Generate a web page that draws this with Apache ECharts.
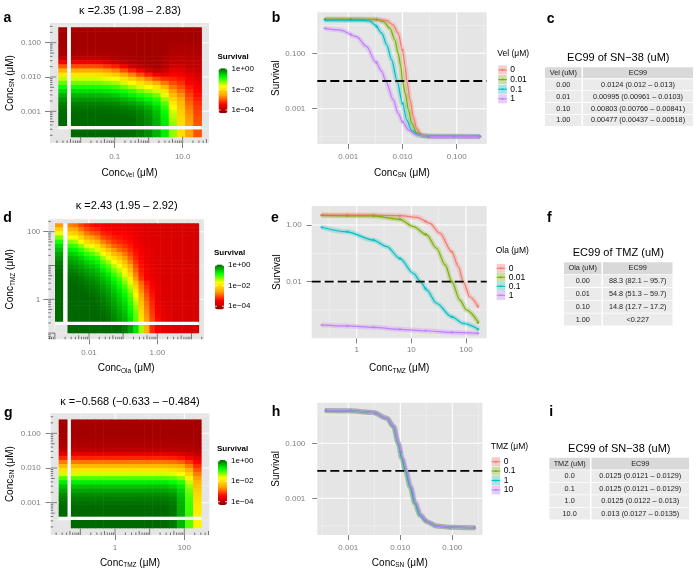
<!DOCTYPE html>
<html><head><meta charset="utf-8">
<script src="https://cdn.jsdelivr.net/npm/echarts@6.0.0/dist/echarts.min.js"></script>
<style>html,body{margin:0;padding:0;background:#fff;}#chart{width:700px;height:587px;}</style>
</head><body><div id="chart"></div>
<script>
// ===================== DATA =====================
// All concentrations / survivals are stored as log10 values.

// ---- Panel a : heat map Vel (x) x SN-38 (y) ----
const aVelLog = [-2.17,-1.93,-1.69,-1.45,-1.21,-0.97,-0.73,-0.49,-0.25,-0.01,0.23,0.47,0.71,0.95,1.19,1.43];
const aSnLog  = [-0.61,-0.73,-0.85,-0.97,-1.09,-1.21,-1.33,-1.45,-1.57,-1.69,-1.81,-1.93,-2.05,-2.17,-2.29,-2.41,-2.53,-2.65,-2.77,-2.89,-3.01,-3.13,-3.25,-3.37]; // top -> bottom
const aSurvival = [ // one column per Vel value, top -> bottom
  [-4.12,-4.12,-4.12,-4.12,-4.12,-4.11,-4.07,-3.94,-3.55,-3.03,-2.48,-1.95,-1.53,-1.18,-0.88,-0.63,-0.4,-0.23,-0.1,-0.03,0.02,0.04,0.05,0.05],
  [-4.12,-4.12,-4.12,-4.12,-4.12,-4.11,-4.07,-3.94,-3.55,-3.03,-2.48,-1.95,-1.53,-1.18,-0.88,-0.63,-0.4,-0.23,-0.1,-0.03,0.02,0.04,0.05,0.05],
  [-4.12,-4.12,-4.12,-4.12,-4.12,-4.11,-4.07,-3.94,-3.55,-3.03,-2.48,-1.95,-1.53,-1.18,-0.88,-0.63,-0.4,-0.23,-0.1,-0.03,0.02,0.04,0.05,0.05],
  [-4.12,-4.12,-4.12,-4.12,-4.12,-4.11,-4.07,-3.95,-3.58,-3.06,-2.52,-1.98,-1.55,-1.2,-0.9,-0.65,-0.41,-0.24,-0.11,-0.03,0.02,0.04,0.05,0.05],
  [-4.12,-4.12,-4.12,-4.12,-4.12,-4.11,-4.08,-3.99,-3.68,-3.17,-2.62,-2.08,-1.62,-1.27,-0.94,-0.69,-0.45,-0.27,-0.13,-0.04,0.01,0.04,0.05,0.05],
  [-4.12,-4.12,-4.12,-4.12,-4.12,-4.12,-4.09,-4.04,-3.8,-3.3,-2.75,-2.2,-1.7,-1.35,-1.0,-0.75,-0.5,-0.3,-0.15,-0.05,0.0,0.03,0.05,0.05],
  [-4.12,-4.12,-4.12,-4.12,-4.12,-4.12,-4.11,-4.07,-3.94,-3.55,-3.03,-2.48,-1.95,-1.53,-1.18,-0.88,-0.63,-0.4,-0.23,-0.1,-0.03,0.02,0.04,0.05],
  [-4.12,-4.12,-4.12,-4.12,-4.12,-4.12,-4.12,-4.09,-4.04,-3.8,-3.3,-2.75,-2.2,-1.7,-1.35,-1.0,-0.75,-0.5,-0.3,-0.15,-0.05,0.0,0.03,0.05],
  [-4.12,-4.12,-4.12,-4.12,-4.12,-4.12,-4.12,-4.11,-4.07,-3.94,-3.55,-3.03,-2.48,-1.95,-1.53,-1.18,-0.88,-0.63,-0.4,-0.24,-0.13,-0.08,-0.06,-0.05],
  [-4.12,-4.12,-4.12,-4.12,-4.12,-4.12,-4.12,-4.12,-4.09,-4.04,-3.8,-3.3,-2.75,-2.2,-1.7,-1.35,-1.0,-0.77,-0.55,-0.38,-0.26,-0.2,-0.17,-0.16],
  [-4.12,-4.12,-4.12,-4.12,-4.12,-4.12,-4.12,-4.12,-4.11,-4.07,-3.94,-3.55,-3.03,-2.48,-1.95,-1.53,-1.2,-0.95,-0.75,-0.58,-0.47,-0.41,-0.38,-0.37],
  [-4.12,-4.12,-4.12,-4.12,-4.12,-4.12,-4.1,-4.07,-4.03,-3.97,-3.85,-3.6,-3.2,-2.8,-2.37,-1.97,-1.62,-1.33,-1.1,-0.95,-0.83,-0.76,-0.72,-0.7],
  [-4.12,-4.12,-4.12,-4.1,-4.07,-4.04,-4.01,-3.96,-3.91,-3.8,-3.63,-3.45,-3.25,-3.05,-2.83,-2.6,-2.35,-2.1,-1.87,-1.65,-1.53,-1.45,-1.37,-1.3],
  [-4.12,-4.12,-4.12,-4.1,-4.07,-4.04,-4.01,-3.96,-3.91,-3.8,-3.65,-3.5,-3.35,-3.2,-3.03,-2.85,-2.68,-2.5,-2.37,-2.25,-2.17,-2.1,-2.05,-2.0],
  [-4.12,-4.12,-4.12,-4.1,-4.07,-4.05,-4.02,-3.98,-3.94,-3.9,-3.78,-3.65,-3.55,-3.45,-3.33,-3.2,-3.1,-3.0,-2.9,-2.8,-2.72,-2.65,-2.6,-2.55],
  [-4.12,-4.12,-4.12,-4.1,-4.07,-4.05,-4.02,-3.98,-3.94,-3.9,-3.82,-3.75,-3.68,-3.6,-3.52,-3.45,-3.38,-3.3,-3.22,-3.15,-3.1,-3.05,-3.02,-3.0]
];
const aSurvivalVel0 = [-4.12,-4.12,-4.12,-4.12,-4.12,-4.1,-4.05,-3.9,-3.5,-2.98,-2.43,-1.9,-1.48,-1.14,-0.85,-0.6,-0.38,-0.21,-0.09,-0.02,0.02,0.04,0.05,0.05];
const aSurvivalSn0  = [0.05,0.05,0.05,0.05,0.05,0.05,0.04,0.03,-0.05,-0.16,-0.37,-0.7,-1.3,-2.0,-2.55,-3.0];

// ---- Panel d : heat map Ola (x) x TMZ (y) ----
const dOlaLog = [-2.55,-2.39,-2.23,-2.07,-1.91,-1.75,-1.59,-1.43,-1.27,-1.11,-0.95,-0.79,-0.63,-0.47,-0.31,-0.15,0.01,0.17,0.33,0.49,0.65,0.81,0.97,1.13];
const dTmzLog = [2.19,2.07,1.95,1.83,1.70,1.58,1.46,1.34,1.22,1.10,0.98,0.86,0.73,0.61,0.49,0.37,0.25,0.13,0.01,-0.12,-0.24,-0.36,-0.48,-0.60]; // top -> bottom
const dSurvival = [
  [-2.75,-2.45,-2.1,-1.65,-1.27,-0.96,-0.71,-0.53,-0.38,-0.26,-0.17,-0.09,-0.03,0.01,0.04,0.05,0.05,0.05,0.05,0.05,0.05,0.05,0.05,0.05],
  [-2.85,-2.55,-2.2,-1.75,-1.36,-1.03,-0.78,-0.57,-0.43,-0.3,-0.21,-0.12,-0.05,0.0,0.03,0.045,0.05,0.05,0.05,0.05,0.05,0.05,0.05,0.05],
  [-3.08,-2.82,-2.5,-2.1,-1.67,-1.3,-1.0,-0.75,-0.56,-0.41,-0.29,-0.2,-0.12,-0.05,-0.01,0.025,0.043,0.048,0.05,0.05,0.05,0.05,0.05,0.05],
  [-3.25,-3.05,-2.8,-2.47,-2.03,-1.58,-1.25,-0.98,-0.74,-0.55,-0.42,-0.3,-0.22,-0.14,-0.07,-0.03,0.01,0.04,0.045,0.05,0.05,0.05,0.05,0.05],
  [-3.38,-3.2,-2.95,-2.6,-2.2,-1.74,-1.4,-1.1,-0.86,-0.65,-0.5,-0.38,-0.28,-0.19,-0.13,-0.07,-0.03,0.01,0.035,0.045,0.05,0.05,0.05,0.05],
  [-3.45,-3.28,-3.05,-2.77,-2.4,-1.96,-1.58,-1.29,-1.0,-0.8,-0.61,-0.48,-0.37,-0.27,-0.2,-0.14,-0.08,-0.04,0.0,0.02,0.04,0.045,0.05,0.05],
  [-3.53,-3.41,-3.26,-3.06,-2.77,-2.4,-2.01,-1.66,-1.35,-1.1,-0.89,-0.7,-0.55,-0.44,-0.34,-0.26,-0.2,-0.14,-0.09,-0.05,-0.015,0.01,0.028,0.038],
  [-3.54,-3.45,-3.34,-3.18,-2.96,-2.68,-2.31,-1.94,-1.62,-1.34,-1.11,-0.91,-0.73,-0.59,-0.48,-0.39,-0.31,-0.25,-0.2,-0.15,-0.1,-0.07,-0.04,-0.015],
  [-3.58,-3.51,-3.42,-3.3,-3.15,-2.92,-2.63,-2.32,-1.98,-1.67,-1.41,-1.19,-1.0,-0.83,-0.68,-0.57,-0.49,-0.41,-0.34,-0.28,-0.23,-0.19,-0.15,-0.12],
  [-3.57,-3.52,-3.46,-3.35,-3.24,-3.05,-2.85,-2.55,-2.24,-1.95,-1.67,-1.45,-1.25,-1.07,-0.91,-0.79,-0.67,-0.58,-0.51,-0.44,-0.38,-0.33,-0.28,-0.25],
  [-3.6,-3.55,-3.49,-3.42,-3.32,-3.18,-3.01,-2.82,-2.59,-2.33,-2.07,-1.82,-1.6,-1.41,-1.22,-1.04,-0.91,-0.8,-0.7,-0.61,-0.54,-0.48,-0.43,-0.38],
  [-3.61,-3.59,-3.53,-3.48,-3.4,-3.32,-3.22,-3.07,-2.93,-2.76,-2.55,-2.33,-2.1,-1.87,-1.6,-1.43,-1.28,-1.15,-1.03,-0.93,-0.85,-0.78,-0.72,-0.66],
  [-3.64,-3.62,-3.6,-3.57,-3.51,-3.47,-3.41,-3.34,-3.27,-3.16,-3.04,-2.93,-2.77,-2.62,-2.3,-2.1,-1.9,-1.72,-1.55,-1.42,-1.3,-1.22,-1.15,-1.1],
  [-3.67,-3.65,-3.63,-3.62,-3.6,-3.57,-3.53,-3.5,-3.46,-3.41,-3.36,-3.31,-3.25,-3.16,-2.9,-2.8,-2.68,-2.55,-2.42,-2.3,-2.2,-2.1,-2.02,-1.95],
  [-3.7,-3.69,-3.67,-3.65,-3.64,-3.63,-3.61,-3.6,-3.59,-3.56,-3.53,-3.51,-3.48,-3.45,-3.3,-3.2,-3.1,-3.0,-2.92,-2.84,-2.77,-2.7,-2.64,-2.58],
  [-3.7,-3.7,-3.7,-3.69,-3.68,-3.67,-3.66,-3.65,-3.64,-3.63,-3.62,-3.61,-3.61,-3.6,-3.5,-3.45,-3.4,-3.35,-3.3,-3.25,-3.2,-3.15,-3.1,-3.05],
  [-3.7,-3.7,-3.7,-3.7,-3.7,-3.7,-3.69,-3.69,-3.68,-3.68,-3.67,-3.66,-3.66,-3.65,-3.64,-3.63,-3.63,-3.62,-3.61,-3.58,-3.55,-3.5,-3.45,-3.4],
  [-3.7,-3.7,-3.7,-3.7,-3.7,-3.7,-3.7,-3.7,-3.7,-3.7,-3.7,-3.7,-3.7,-3.7,-3.69,-3.69,-3.68,-3.68,-3.67,-3.66,-3.64,-3.62,-3.6,-3.57],
  [-3.72,-3.72,-3.72,-3.72,-3.72,-3.72,-3.72,-3.72,-3.72,-3.72,-3.72,-3.72,-3.72,-3.72,-3.72,-3.72,-3.71,-3.71,-3.7,-3.7,-3.69,-3.68,-3.67,-3.66],
  [-3.72,-3.72,-3.72,-3.72,-3.72,-3.72,-3.72,-3.72,-3.72,-3.72,-3.72,-3.72,-3.72,-3.72,-3.72,-3.72,-3.72,-3.72,-3.72,-3.72,-3.72,-3.72,-3.72,-3.72],
  [-3.73,-3.73,-3.73,-3.73,-3.73,-3.73,-3.73,-3.73,-3.73,-3.73,-3.73,-3.73,-3.73,-3.73,-3.73,-3.73,-3.73,-3.73,-3.73,-3.73,-3.73,-3.73,-3.73,-3.73],
  [-3.74,-3.74,-3.74,-3.74,-3.74,-3.74,-3.74,-3.74,-3.74,-3.74,-3.74,-3.74,-3.74,-3.74,-3.74,-3.74,-3.74,-3.74,-3.74,-3.74,-3.74,-3.74,-3.74,-3.74],
  [-3.75,-3.75,-3.75,-3.75,-3.75,-3.75,-3.75,-3.75,-3.75,-3.75,-3.75,-3.75,-3.75,-3.75,-3.75,-3.75,-3.75,-3.75,-3.75,-3.75,-3.75,-3.75,-3.75,-3.75],
  [-3.76,-3.76,-3.76,-3.76,-3.76,-3.76,-3.76,-3.76,-3.76,-3.76,-3.76,-3.76,-3.76,-3.76,-3.76,-3.76,-3.76,-3.76,-3.76,-3.76,-3.76,-3.76,-3.76,-3.76]
];
const dSurvivalOla0 = [-2.6,-2.12,-1.63,-1.23,-0.88,-0.61,-0.44,-0.29,-0.18,-0.08,-0.02,0.02,0.045,0.05,0.05,0.05,0.05,0.05,0.05,0.05,0.05,0.05,0.05,0.05];
const dSurvivalTmz0 = [0.05,0.05,0.05,0.05,0.05,0.05,0.05,0.05,0.05,0.04,-0.07,-0.29,-0.66,-1.37,-2.4,-3.23,-3.53,-3.64,-3.7,-3.72,-3.74,-3.75,-3.76,-3.77];

// ---- Panel g : heat map TMZ (x) x SN-38 (y) ----
const gTmzLog = [-1.16,-0.93,-0.69,-0.46,-0.22,0.02,0.25,0.49,0.72,0.96,1.19,1.43,1.67,1.90,2.14,2.37];
const gSnLog  = [-0.66,-0.78,-0.89,-1.01,-1.13,-1.24,-1.36,-1.48,-1.59,-1.71,-1.83,-1.94,-2.06,-2.18,-2.29,-2.41,-2.53,-2.64,-2.76,-2.88,-2.99,-3.11,-3.23,-3.34]; // top -> bottom
const gSurvival = [
  [-4.12,-4.12,-4.12,-4.12,-4.11,-4.08,-4.04,-3.94,-3.65,-3.25,-2.8,-2.35,-1.95,-1.52,-1.08,-0.72,-0.47,-0.3,-0.17,-0.08,-0.01,0.03,0.05,0.05],
  [-4.12,-4.12,-4.12,-4.12,-4.11,-4.08,-4.04,-3.94,-3.65,-3.25,-2.8,-2.35,-1.95,-1.52,-1.08,-0.72,-0.47,-0.3,-0.17,-0.08,-0.01,0.03,0.05,0.05],
  [-4.12,-4.12,-4.12,-4.12,-4.11,-4.08,-4.04,-3.94,-3.65,-3.25,-2.8,-2.35,-1.95,-1.52,-1.08,-0.72,-0.47,-0.3,-0.17,-0.08,-0.01,0.03,0.05,0.05],
  [-4.12,-4.12,-4.12,-4.12,-4.11,-4.08,-4.04,-3.94,-3.65,-3.25,-2.8,-2.35,-1.95,-1.52,-1.08,-0.72,-0.47,-0.3,-0.17,-0.08,-0.01,0.03,0.05,0.05],
  [-4.12,-4.12,-4.12,-4.12,-4.11,-4.08,-4.04,-3.94,-3.65,-3.25,-2.8,-2.35,-1.95,-1.52,-1.08,-0.72,-0.47,-0.3,-0.17,-0.08,-0.01,0.03,0.05,0.05],
  [-4.12,-4.12,-4.12,-4.12,-4.11,-4.08,-4.04,-3.94,-3.65,-3.25,-2.8,-2.35,-1.95,-1.52,-1.08,-0.72,-0.47,-0.3,-0.17,-0.08,-0.01,0.03,0.05,0.05],
  [-4.12,-4.12,-4.12,-4.12,-4.11,-4.08,-4.04,-3.94,-3.65,-3.25,-2.8,-2.35,-1.95,-1.52,-1.08,-0.72,-0.47,-0.3,-0.17,-0.08,-0.01,0.03,0.05,0.05],
  [-4.12,-4.12,-4.12,-4.12,-4.11,-4.08,-4.04,-3.94,-3.65,-3.25,-2.8,-2.35,-1.95,-1.52,-1.08,-0.72,-0.47,-0.3,-0.17,-0.08,-0.01,0.03,0.05,0.05],
  [-4.12,-4.12,-4.12,-4.12,-4.11,-4.08,-4.04,-3.94,-3.65,-3.25,-2.8,-2.35,-1.95,-1.52,-1.08,-0.72,-0.47,-0.3,-0.17,-0.08,-0.01,0.03,0.05,0.05],
  [-4.12,-4.12,-4.12,-4.12,-4.11,-4.08,-4.04,-3.94,-3.65,-3.25,-2.8,-2.35,-1.95,-1.52,-1.08,-0.72,-0.47,-0.3,-0.17,-0.08,-0.01,0.03,0.05,0.05],
  [-4.12,-4.12,-4.12,-4.12,-4.11,-4.08,-4.04,-3.94,-3.65,-3.25,-2.8,-2.35,-1.95,-1.52,-1.08,-0.72,-0.47,-0.3,-0.17,-0.08,-0.01,0.03,0.05,0.05],
  [-4.12,-4.12,-4.12,-4.12,-4.11,-4.08,-4.04,-3.94,-3.65,-3.25,-2.8,-2.35,-1.95,-1.52,-1.08,-0.72,-0.47,-0.3,-0.17,-0.08,-0.01,0.03,0.05,0.05],
  [-4.12,-4.12,-4.12,-4.12,-4.11,-4.08,-4.04,-3.95,-3.67,-3.28,-2.84,-2.4,-2.0,-1.58,-1.15,-0.8,-0.55,-0.37,-0.23,-0.13,-0.07,-0.04,-0.03,-0.03],
  [-4.12,-4.12,-4.12,-4.12,-4.11,-4.09,-4.05,-3.96,-3.72,-3.35,-2.92,-2.5,-2.1,-1.7,-1.28,-0.95,-0.73,-0.58,-0.48,-0.42,-0.38,-0.36,-0.35,-0.35],
  [-4.12,-4.12,-4.12,-4.12,-4.11,-4.09,-4.06,-4.0,-3.82,-3.5,-3.15,-2.8,-2.45,-2.1,-1.78,-1.5,-1.32,-1.2,-1.12,-1.07,-1.04,-1.02,-1.01,-1.0],
  [-4.12,-4.12,-4.12,-4.12,-4.12,-4.11,-4.08,-4.02,-3.92,-3.7,-3.45,-3.2,-2.98,-2.78,-2.58,-2.4,-2.28,-2.18,-2.08,-2.0,-1.95,-1.9,-1.87,-1.85]
];
const gSurvivalTmz0 = [-4.12,-4.12,-4.12,-4.12,-4.11,-4.08,-4.04,-3.94,-3.65,-3.25,-2.8,-2.35,-1.95,-1.52,-1.08,-0.72,-0.47,-0.3,-0.17,-0.08,-0.01,0.03,0.05,0.05];
const gSurvivalSn0  = [0.05,0.05,0.05,0.05,0.05,0.05,0.05,0.05,0.05,0.05,0.05,0.05,-0.05,-0.4,-1.1,-1.8];

// ---- Panel b : survival vs SN-38 for Vel levels ----
const bLevels = ['0','0.01','0.1','1'];
const bCurveX = [
  [-3.43,-2.8,-2.4,-2.29,-2.17,-2.08,-2.0,-1.95,-1.92,-1.86,-1.8,-1.74,-1.65,-1.49,-0.57],
  [-3.43,-2.48,-2.35,-2.23,-2.14,-2.08,-2.03,-2.0,-1.95,-1.89,-1.83,-1.74,-1.62,-0.57],
  [-3.43,-2.72,-2.6,-2.5,-2.38,-2.29,-2.2,-2.1,-2.0,-1.92,-1.83,-1.71,-1.49,-0.57],
  [-3.43,-3.15,-2.85,-2.66,-2.5,-2.38,-2.31,-2.17,-2.08,-2.0,-1.89,-1.74,-1.49,-0.57]
];
const bCurveY = [
  [0.23,0.23,0.21,0.18,0.02,-0.28,-0.88,-1.48,-2.0,-2.68,-3.29,-3.71,-3.95,-4.01,-4.01],
  [0.23,0.23,0.14,-0.1,-0.52,-1.0,-1.48,-2.0,-2.44,-3.05,-3.53,-3.86,-3.98,-4.0],
  [0.2,0.19,0.16,0.02,-0.28,-0.7,-1.24,-2.0,-2.81,-3.41,-3.79,-3.95,-4.0,-4.0],
  [-0.1,-0.16,-0.4,-0.76,-1.3,-1.66,-2.0,-2.68,-3.17,-3.47,-3.77,-3.95,-4.0,-4.0]
];
const bPointX = [-3.43,-2.95,-2.48,-2.0,-1.52,-1.05,-0.57];
const bPointY = [
  [0.23,0.23,0.22,-0.88,-4.01,-4.01,-4.01],
  [0.23,0.23,0.21,-2.0,-4.0,-4.0,-4.0],
  [0.2,0.2,-0.03,-2.81,-4.0,-4.0,-4.0],
  [-0.1,-0.32,-1.33,-3.47,-4.0,-4.0,-4.0]
];

// ---- Panel e : survival vs TMZ for Ola levels ----
const eLevels = ['0','0.01','0.1','1'];
const eCurveX = [
  [-0.64,0.31,0.79,1.10,1.34,1.52,1.74,1.86,1.95,2.07,2.22],
  [-0.64,0.30,0.79,1.04,1.28,1.46,1.62,1.74,1.89,2.01,2.23],
  [-0.64,-0.18,0.30,0.55,0.79,1.04,1.17,1.28,1.46,1.74,1.95,2.23],
  [-0.64,-0.17,0.31,0.79,1.26,1.74,2.22]
];
const eCurveY = [
  [0.35,0.35,0.33,0.27,0.06,-0.29,-0.94,-1.47,-2.0,-2.53,-2.88],
  [0.34,0.32,0.2,-0.06,-0.35,-0.82,-1.41,-2.0,-2.65,-3.0,-3.45],
  [-0.08,-0.24,-0.53,-0.76,-1.18,-1.71,-2.0,-2.29,-2.76,-3.24,-3.47,-3.68],
  [-3.53,-3.56,-3.61,-3.68,-3.73,-3.79,-3.82]
];
const ePointX = [-0.64,-0.17,0.31,0.79,1.26,1.74,2.22];
const ePointY = [
  [0.35,0.35,0.35,0.33,0.13,-0.94,-2.88],
  [0.34,0.33,0.32,0.2,-0.33,-2.0,-3.45],
  [-0.08,-0.24,-0.53,-1.18,-2.24,-3.24,-3.68],
  [-3.53,-3.56,-3.61,-3.68,-3.73,-3.79,-3.82]
];

// ---- Panel h : survival vs SN-38 for TMZ levels ----
const hLevels = ['0','0.1','1','10'];
const hCurveX = [
  [-3.45,-2.97,-2.52,-2.26,-2.13,-2.04,-1.97,-1.90,-1.81,-1.72,-1.62,-1.49,-1.30,-1.04,-0.56],
  [-3.45,-2.97,-2.52,-2.26,-2.13,-2.04,-1.97,-1.90,-1.81,-1.72,-1.62,-1.49,-1.30,-1.04,-0.56],
  [-3.45,-2.97,-2.52,-2.26,-2.13,-2.04,-1.97,-1.90,-1.81,-1.72,-1.62,-1.49,-1.30,-1.04,-0.56],
  [-3.45,-2.97,-2.52,-2.25,-2.12,-2.03,-1.95,-1.88,-1.79,-1.70,-1.60,-1.48,-1.30,-1.04,-0.56]
];
const hCurveY = [
  [0.19,0.18,0.12,-0.09,-0.39,-1.0,-1.55,-2.0,-2.58,-3.18,-3.61,-3.85,-4.01,-4.05,-4.07],
  [0.19,0.18,0.12,-0.09,-0.39,-1.0,-1.55,-2.0,-2.58,-3.18,-3.61,-3.85,-4.01,-4.05,-4.07],
  [0.19,0.18,0.12,-0.09,-0.39,-1.0,-1.55,-2.0,-2.58,-3.18,-3.61,-3.85,-4.01,-4.05,-4.07],
  [0.19,0.18,0.12,-0.09,-0.39,-1.0,-1.55,-2.0,-2.58,-3.18,-3.61,-3.85,-4.01,-4.05,-4.07]
];
const hPointX = [-3.43,-2.95,-2.48,-2.0,-1.52,-1.05,-0.57];
const hPointY = [
  [0.19,0.18,0.1,-1.3,-3.8,-4.05,-4.07],
  [0.19,0.18,0.1,-1.3,-3.8,-4.05,-4.07],
  [0.19,0.18,0.1,-1.3,-3.8,-4.05,-4.07],
  [0.19,0.18,0.1,-1.25,-3.78,-4.05,-4.07]
];
const EC99_LEVEL = 0.01;

// ---- Tables ----
const cTitle = 'EC99 of SN\u221238 (uM)';
const cHeader = ['Vel (uM)','EC99'];
const cRows = [['0.00','0.0124 (0.012 \u2013 0.013)'],['0.01','0.00995 (0.00961 \u2013 0.0103)'],['0.10','0.00803 (0.00766 \u2013 0.00841)'],['1.00','0.00477 (0.00437 \u2013 0.00518)']];
const fTitle = 'EC99 of TMZ (uM)';
const fHeader = ['Ola (uM)','EC99'];
const fRows = [['0.00','88.3 (82.1 \u2013 95.7)'],['0.01','54.8 (51.3 \u2013 59.7)'],['0.10','14.8 (12.7 \u2013 17.2)'],['1.00','<0.227']];
const iTitle = 'EC99 of SN\u221238 (uM)';
const iHeader = ['TMZ (uM)','EC99'];
const iRows = [['0.0','0.0125 (0.0121 \u2013 0.0129)'],['0.1','0.0125 (0.0121 \u2013 0.0129)'],['1.0','0.0125 (0.0122 \u2013 0.013)'],['10.0','0.013 (0.0127 \u2013 0.0135)']];

const kappaA = '\u03BA =2.35 (1.98 \u2013 2.83)';
const kappaD = '\u03BA =2.43 (1.95 \u2013 2.92)';
const kappaG = '\u03BA =\u22120.568 (\u22120.633 \u2013 \u22120.484)';
const survivalTicks = [0, -2, -4];
const survivalTickLabels = ['1e+00','1e\u221202','1e\u221204'];

// ===================== STYLE / LAYOUT =====================
const FONT = "'Liberation Sans', Arial, Helvetica, sans-serif";
const HUE = ['#F8766D','#7CAE00','#00BFC4','#C77CFF'];
const VM_MIN = -4.32, VM_MAX = 0.07;
const VM_COLORS = ['#8B0000','#FF0000','#FFA500','#FFFF00','#00FF00','#006400'];
const PANEL_BG = '#E5E5E5';
const pow10 = v => Math.pow(10, v);
const lin = (p0, v0, p1, v1) => { const k = (v1 - v0) / (p1 - p0); return p => v0 + (p - p0) * k; };

const grids = [], xAxes = [], yAxes = [], series = [], visualMaps = [], graphics = [];
const RICH = {
  m: { fontSize: 10, fontFamily: FONT, color: '#000', lineHeight: 12 },
  s: { fontSize: 6.5, fontFamily: FONT, color: '#000', lineHeight: 7, verticalAlign: 'bottom' }
};
function concName(sub) { return '{m|Conc}{s|' + sub + '}{m| (\u03BCM)}'; }

function labelFormatter(vals, labs) {
  return v => { let b = 0, d = Infinity; vals.forEach((t, i) => { const e = Math.abs(Math.log10(t) - Math.log10(v)); if (e < d) { d = e; b = i; } }); return labs[b]; };
}
function addGrid(r, bg) {
  grids.push({ left: r[0], top: r[1], width: r[2] - r[0], height: r[3] - r[1], show: !!bg, backgroundColor: bg || 'transparent', borderWidth: 0, borderColor: 'transparent', containLabel: false });
  return grids.length - 1;
}
function valueAxis(gi, range, ticks, labs, margin, name, gap) {
  return { type: 'log', logBase: 10, gridIndex: gi, min: pow10(range[0]), max: pow10(range[1]),
    splitLine: { show: false }, axisLine: { show: false }, minorTick: { show: false },
    axisTick: { show: true, customValues: ticks, length: 5, lineStyle: { color: '#7F7F7F', width: 1 } },
    axisLabel: { show: true, customValues: ticks, margin: margin, color: '#7F7F7F', fontSize: 8, fontFamily: FONT, formatter: labelFormatter(ticks, labs) },
    name: name, nameLocation: 'middle', nameGap: gap,
    nameTextStyle: { rich: RICH, fontSize: 10, fontFamily: FONT, color: '#000' } };
}
function hiddenLog(gi, range) { return { type: 'log', logBase: 10, gridIndex: gi, min: pow10(range[0]), max: pow10(range[1]), show: false }; }
function hiddenCat(gi) { return { type: 'category', data: ['0'], gridIndex: gi, show: false }; }
function edges(c) {
  const n = c.length, e = [c[0] - (c[1] - c[0]) / 2];
  for (let i = 1; i < n; i++) e.push((c[i - 1] + c[i]) / 2);
  e.push(c[n - 1] + (c[n - 1] - c[n - 2]) / 2);
  return e;
}
function inRange(v, r) { const l = Math.log10(v); return l >= r[0] - 1e-9 && l <= r[1] + 1e-9; }

function gridLines(gi, xr, yr, xMaj, xMin, yMaj, yMin) {
  const data = [], xRef = pow10(xr[0]) * 1.0001, yRef = pow10(yr[0]) * 1.0001;
  xMin.filter(v => inRange(v, xr)).forEach(v => data.push([v, yRef, 0, 0]));
  yMin.filter(v => inRange(v, yr)).forEach(v => data.push([xRef, v, 1, 0]));
  xMaj.filter(v => inRange(v, xr)).forEach(v => data.push([v, yRef, 0, 1]));
  yMaj.filter(v => inRange(v, yr)).forEach(v => data.push([xRef, v, 1, 1]));
  series.push({ type: 'custom', xAxisIndex: gi, yAxisIndex: gi, data: data, encode: { x: 0, y: 1 }, z: 1, silent: true,
    renderItem: (params, api) => {
      const cs = params.coordSys, p = api.coord([api.value(0), api.value(1)]);
      const hz = api.value(2) === 1, maj = api.value(3) === 1;
      const shape = hz ? { x1: cs.x, y1: p[1], x2: cs.x + cs.width, y2: p[1] } : { x1: p[0], y1: cs.y, x2: p[0], y2: cs.y + cs.height };
      return { type: 'line', shape: shape, style: { stroke: maj ? '#FFFFFF' : '#F4F4F4', lineWidth: maj ? 1.1 : 0.5 } };
    } });
}
function logTicks(gi, xr, yr) {
  const data = [];
  for (let k = Math.floor(xr[0]); k <= Math.ceil(xr[1]); k++) for (let m = 1; m <= 9; m++) {
    const v = m * pow10(k); if (inRange(v, xr)) data.push([v, pow10(yr[0]) * 1.0001, 0, m === 1 ? 6.5 : (m === 5 ? 4 : 2.5)]);
  }
  for (let k = Math.floor(yr[0]); k <= Math.ceil(yr[1]); k++) for (let m = 1; m <= 9; m++) {
    const v = m * pow10(k); if (inRange(v, yr)) data.push([pow10(xr[0]) * 1.0001, v, 1, m === 1 ? 6.5 : (m === 5 ? 4 : 2.5)]);
  }
  series.push({ type: 'custom', xAxisIndex: gi, yAxisIndex: gi, data: data, encode: { x: 0, y: 1 }, z: 4, silent: true,
    renderItem: (params, api) => {
      const cs = params.coordSys, p = api.coord([api.value(0), api.value(1)]), len = api.value(3);
      const shape = api.value(2) === 0
        ? { x1: p[0], y1: cs.y + cs.height, x2: p[0], y2: cs.y + cs.height - len }
        : { x1: cs.x, y1: p[1], x2: cs.x + len, y2: p[1] };
      return { type: 'line', shape: shape, style: { stroke: '#555555', lineWidth: 0.8 } };
    } });
}
function cellItem(params, api) {
  const a = api.coord([api.value(0), api.value(2)]), b = api.coord([api.value(1), api.value(3)]);
  return { type: 'rect', shape: { x: Math.min(a[0], b[0]), y: Math.min(a[1], b[1]), width: Math.abs(b[0] - a[0]) + 0.5, height: Math.abs(b[1] - a[1]) + 0.5 }, style: { fill: api.visual('color') } };
}
function vStripItem(params, api) {
  const cs = params.coordSys, a = api.coord([0, api.value(2)]), b = api.coord([0, api.value(3)]);
  return { type: 'rect', shape: { x: cs.x, y: Math.min(a[1], b[1]), width: cs.width, height: Math.abs(a[1] - b[1]) + 0.5 }, style: { fill: api.visual('color') } };
}
function hStripItem(params, api) {
  const cs = params.coordSys, a = api.coord([api.value(0), 0]), b = api.coord([api.value(1), 0]);
  return { type: 'rect', shape: { x: Math.min(a[0], b[0]), y: cs.y, width: Math.abs(a[0] - b[0]) + 0.5, height: cs.height }, style: { fill: api.visual('color') } };
}
function txt(t, x, y, size, align, extra) {
  return { type: 'text', silent: true, z: 100, style: Object.assign({ text: t, x: x, y: y, fill: '#000', font: size + 'px ' + FONT, textAlign: align || 'left', align: align || 'left', textVerticalAlign: 'middle', verticalAlign: 'middle' }, extra || {}) };
}
function rect(x, y, w, h, fill, extra) { return { type: 'rect', silent: true, z: 99, shape: { x: x, y: y, width: w, height: h }, style: Object.assign({ fill: fill }, extra || {}) }; }

function heatPanel(c) {
  const r = c.rect, xr = [c.fx(r[0]), c.fx(r[2])], yr = [c.fy(r[3]), c.fy(r[1])];
  const gi = addGrid(r, PANEL_BG);
  xAxes.push(valueAxis(gi, xr, c.xTicks, c.xLabs, c.xMargin, concName(c.xSub), c.xGap));
  yAxes.push(valueAxis(gi, yr, c.yTicks, c.yLabs, c.yMargin, concName(c.ySub), c.yGap));
  gridLines(gi, xr, yr, c.xTicks, c.xMinor, c.yTicks, c.yMinor);
  const xe = edges(c.xc), ye = edges(c.yc), data = [], sIdx = [];
  c.cols.forEach((col, i) => col.forEach((v, j) => data.push([pow10(xe[i]), pow10(xe[i + 1]), pow10(ye[j]), pow10(ye[j + 1]), v])));
  series.push({ type: 'custom', xAxisIndex: gi, yAxisIndex: gi, data: data, encode: { x: [0, 1], y: [2, 3] }, renderItem: cellItem, z: 2, silent: true });
  sIdx.push(series.length - 1);
  logTicks(gi, xr, yr);
  const lr = c.leftRect, gl = addGrid(lr);
  xAxes.push(hiddenCat(gl)); yAxes.push(hiddenLog(gl, [c.fy(lr[3]), c.fy(lr[1])]));
  series.push({ type: 'custom', xAxisIndex: gl, yAxisIndex: gl, data: c.leftStrip.map((v, j) => [0, 0, pow10(ye[j]), pow10(ye[j + 1]), v]), encode: { x: 0, y: [2, 3] }, renderItem: vStripItem, z: 2, silent: true });
  sIdx.push(series.length - 1);
  const br = c.bottomRect, gb = addGrid(br);
  xAxes.push(hiddenLog(gb, [c.fx(br[0]), c.fx(br[2])])); yAxes.push(hiddenCat(gb));
  series.push({ type: 'custom', xAxisIndex: gb, yAxisIndex: gb, data: c.bottomStrip.map((v, i) => [pow10(xe[i]), pow10(xe[i + 1]), 0, 0, v]), encode: { x: [0, 1], y: 2 }, renderItem: hStripItem, z: 2, silent: true });
  sIdx.push(series.length - 1);
  graphics.push(rect(lr[2], lr[1], br[0] - lr[2], lr[3] - lr[1], '#FAFAFA', {}));
  graphics.push(rect(lr[0], lr[3], br[2] - lr[0], br[1] - lr[3], '#FAFAFA', {}));
  const cb = c.cb;
  visualMaps.push({ type: 'continuous', min: VM_MIN, max: VM_MAX, dimension: 4, seriesIndex: sIdx, inRange: { color: VM_COLORS },
    calculable: false, hoverLink: false, itemWidth: 9, itemHeight: cb.h, left: cb.x, top: cb.y, padding: 0, text: null, show: true });
  graphics.push(txt('Survival', cb.x - 1, cb.y - 11.5, 8, 'left', { font: 'bold 8px ' + FONT }));
  survivalTicks.forEach((v, i) => {
    const y = cb.y + (VM_MAX - v) / (VM_MAX - VM_MIN) * cb.h;
    graphics.push({ type: 'line', silent: true, z: 101, shape: { x1: cb.x, y1: y, x2: cb.x + 2, y2: y }, style: { stroke: '#fff', lineWidth: 0.8 } });
    graphics.push({ type: 'line', silent: true, z: 101, shape: { x1: cb.x + 7, y1: y, x2: cb.x + 9, y2: y }, style: { stroke: '#fff', lineWidth: 0.8 } });
    graphics.push(txt(survivalTickLabels[i], cb.x + 13, y, 8, 'left'));
  });
}

function linePanel(c) {
  const r = c.rect, xr = [c.fx(r[0]), c.fx(r[2])], yr = [c.fy(r[3]), c.fy(r[1])];
  const gi = addGrid(r, PANEL_BG);
  xAxes.push(valueAxis(gi, xr, c.xTicks, c.xLabs, c.xMargin, concName(c.xSub), c.xGap));
  yAxes.push(valueAxis(gi, yr, c.yTicks, c.yLabs, c.yMargin, 'Survival', c.yGap));
  gridLines(gi, xr, yr, c.xTicks, c.xMinor, c.yMajor, c.yMinor);
  c.cx.forEach((xs, i) => {
    const d = xs.map((x, k) => [pow10(x), pow10(c.cy[i][k])]);
    series.push({ type: 'line', xAxisIndex: gi, yAxisIndex: gi, data: d, smooth: 0.3, smoothMonotone: 'x', symbol: 'none', lineStyle: { color: HUE[i], width: 5, opacity: 0.25 }, z: 3, silent: true });
    series.push({ type: 'line', xAxisIndex: gi, yAxisIndex: gi, data: d, smooth: 0.3, smoothMonotone: 'x', symbol: 'none', lineStyle: { color: HUE[i], width: 1.2 }, z: 4, silent: true });
    series.push({ type: 'scatter', xAxisIndex: gi, yAxisIndex: gi, data: c.px.map((x, k) => [pow10(x), pow10(c.py[i][k])]), symbolSize: 2.5, itemStyle: { color: HUE[i] }, z: 5, silent: true });
  });
  series.push({ type: 'custom', xAxisIndex: gi, yAxisIndex: gi, data: [[pow10(xr[0]) * 1.0001, EC99_LEVEL]], encode: { x: 0, y: 1 }, z: 6, silent: true,
    renderItem: (params, api) => { const cs = params.coordSys, p = api.coord([api.value(0), api.value(1)]);
      return { type: 'line', shape: { x1: cs.x, y1: p[1], x2: cs.x + cs.width, y2: p[1] }, style: { stroke: '#000', lineWidth: 1.8, lineDash: [9, 4] } }; } });
  const L = c.legend;
  graphics.push(txt(c.legendTitle, L.x, L.ty, 8.5, 'left'));
  c.levels.forEach((lab, i) => {
    const cy = L.y0 + i * L.step;
    graphics.push(rect(L.x + 1, cy - 4.5, 8.5, 9, '#F2F2F2'));
    graphics.push(rect(L.x + 1, cy - 4.5, 8.5, 9, HUE[i], { opacity: 0.3 }));
    graphics.push({ type: 'line', silent: true, z: 100, shape: { x1: L.x + 1, y1: cy, x2: L.x + 9.5, y2: cy }, style: { stroke: HUE[i], lineWidth: 1.1 } });
    graphics.push({ type: 'circle', silent: true, z: 100, shape: { cx: L.x + 5.25, cy: cy, r: 1 }, style: { fill: HUE[i] } });
    graphics.push(txt(lab, L.x + 13, cy, 8.5, 'left'));
  });
}

function table(c) {
  graphics.push(txt(c.title, c.cx, c.ty, 11, 'center'));
  const rows = [c.header].concat(c.rows);
  rows.forEach((row, i) => {
    const y = c.y0 + i * c.step;
    let x = c.x0;
    row.forEach((t, j) => {
      graphics.push(rect(x, y, c.w[j], c.rh, i === 0 ? '#D9D9D9' : '#EBEBEB'));
      graphics.push(txt(t, x + c.w[j] / 2, y + c.rh / 2, 7.3, 'center', { fill: '#222' }));
      x += c.w[j] + 1.5;
    });
  });
}

heatPanel({ rect: [50, 23, 209, 143], fx: lin(114.7, -1, 182.7, 1), fy: lin(42.7, -1, 111.3, -3),
  xTicks: [0.1, 10], xLabs: ['0.1', '10.0'], yTicks: [0.1, 0.01, 0.001], yLabs: ['0.100', '0.010', '0.001'],
  xMinor: [0.01, 1], yMinor: [pow10(-0.5), pow10(-1.5), pow10(-2.5), pow10(-3.5)],
  xSub: 'Vel', ySub: 'SN', xGap: 24, yGap: 34, xMargin: 10, yMargin: 9,
  xc: aVelLog, yc: aSnLog, cols: aSurvival, leftStrip: aSurvivalVel0, bottomStrip: aSurvivalSn0,
  leftRect: [58.3, 27.3, 67.3, 126], bottomRect: [70.7, 129.3, 201.7, 137.3], cb: { x: 218.5, y: 68.3, h: 45 } });
heatPanel({ rect: [48.3, 219.3, 204, 339.3], fx: lin(89, -2, 157.3, 0), fy: lin(231.7, 2, 299.3, 0),
  xTicks: [0.01, 1], xLabs: ['0.01', '1.00'], yTicks: [100, 1], yLabs: ['100', '1'],
  xMinor: [0.001, 0.1], yMinor: [10, 0.1],
  xSub: 'Ola', ySub: 'TMZ', xGap: 23, yGap: 32, xMargin: 9, yMargin: 8,
  xc: dOlaLog, yc: dTmzLog, cols: dSurvival, leftStrip: dSurvivalOla0, bottomStrip: dSurvivalTmz0,
  leftRect: [55, 223.3, 63.3, 321.7], bottomRect: [67.3, 325, 198.3, 333.3], cb: { x: 215, y: 264.5, h: 45 } });
heatPanel({ rect: [50.7, 413.3, 209.3, 535], fx: lin(115, 0, 184.3, 2), fy: lin(433.3, -1, 502.7, -3),
  xTicks: [1, 100], xLabs: ['1', '100'], yTicks: [0.1, 0.01, 0.001], yLabs: ['0.100', '0.010', '0.001'],
  xMinor: [0.1, 10], yMinor: [pow10(-0.5), pow10(-1.5), pow10(-2.5), pow10(-3.5)],
  xSub: 'TMZ', ySub: 'SN', xGap: 22, yGap: 34.5, xMargin: 9, yMargin: 10,
  xc: gTmzLog, yc: gSnLog, cols: gSurvival, leftStrip: gSurvivalTmz0, bottomStrip: gSurvivalSn0,
  leftRect: [58.7, 419.3, 67.7, 516.7], bottomRect: [70.7, 520, 201.3, 528.3], cb: { x: 218, y: 460, h: 45 } });
linePanel({ rect: [317.3, 12.3, 486.7, 144], fx: lin(348.3, -3, 456.7, -1), fy: lin(53.3, -1, 108.7, -3),
  xTicks: [0.001, 0.01, 0.1], xLabs: ['0.001', '0.010', '0.100'], yTicks: [0.1, 0.001], yLabs: ['0.100', '0.001'],
  xMinor: [pow10(-3.5), pow10(-2.5), pow10(-1.5), pow10(-0.5)], yMajor: [0.1, 0.001], yMinor: [1, 0.01, 0.0001],
  xSub: 'SN', xGap: 23, yGap: 34.5, xMargin: 9, yMargin: 12,
  cx: bCurveX, cy: bCurveY, px: bPointX, py: bPointY, levels: bLevels, legendTitle: 'Vel (\u03BCM)',
  legend: { x: 497.3, ty: 53.3, y0: 70, step: 9.6 } });
linePanel({ rect: [311.7, 206, 486.7, 338.3], fx: lin(356.7, 0, 466, 2), fy: lin(225, 0, 281.7, -2),
  xTicks: [1, 10, 100], xLabs: ['1', '10', '100'], yTicks: [1, 0.01], yLabs: ['1.00', '0.01'],
  xMinor: [pow10(-0.5), pow10(0.5), pow10(1.5)], yMajor: [1, 0.01], yMinor: [0.1, 0.001],
  xSub: 'TMZ', xGap: 24, yGap: 29, xMargin: 7, yMargin: 10,
  cx: eCurveX, cy: eCurveY, px: ePointX, py: ePointY, levels: eLevels, legendTitle: 'Ola (\u03BCM)',
  legend: { x: 495.7, ty: 250.7, y0: 268.3, step: 9 } });
linePanel({ rect: [317.3, 402.7, 482.3, 535], fx: lin(348.3, -3, 452.3, -1), fy: lin(443.3, -1, 498.3, -3),
  xTicks: [0.001, 0.01, 0.1], xLabs: ['0.001', '0.010', '0.100'], yTicks: [0.1, 0.001], yLabs: ['0.100', '0.001'],
  xMinor: [pow10(-3.5), pow10(-2.5), pow10(-1.5), pow10(-0.5)], yMajor: [0.1, 0.001], yMinor: [1, 0.01, 0.0001],
  xSub: 'SN', xGap: 22, yGap: 34.5, xMargin: 9, yMargin: 12,
  cx: hCurveX, cy: hCurveY, px: hPointX, py: hPointY, levels: hLevels, legendTitle: 'TMZ (\u03BCM)',
  legend: { x: 490.7, ty: 446.7, y0: 461.7, step: 9.4 } });

table({ title: cTitle, cx: 618.3, ty: 58.3, header: cHeader, rows: cRows, x0: 545, w: [36.5, 110], y0: 67.3, rh: 11, step: 11.9 });
table({ title: fTitle, cx: 618.3, ty: 252.7, header: fHeader, rows: fRows, x0: 564, w: [37.5, 69.5], y0: 262.3, rh: 12, step: 12.8 });
table({ title: iTitle, cx: 619.3, ty: 449.3, header: iHeader, rows: iRows, x0: 549.3, w: [40.7, 97.6], y0: 457.7, rh: 11.8, step: 12.5 });

graphics.push(txt(kappaA, 130, 11, 11, 'center'));
graphics.push(txt(kappaD, 126.7, 206, 11, 'center'));
graphics.push(txt(kappaG, 130, 401.7, 11, 'center'));
[['a', 3.5, 18.3], ['b', 271.7, 18], ['c', 546.7, 19], ['d', 3.3, 218], ['e', 271, 218], ['f', 547, 218.3], ['g', 4, 413], ['h', 271.7, 411.7], ['i', 549.3, 411.7]]
  .forEach(l => graphics.push(txt(l[0], l[1], l[2], 14, 'left', { font: 'bold 14px ' + FONT })));

const chart = echarts.init(document.getElementById('chart'), null, { renderer: 'canvas' });
chart.setOption({
  animation: false, backgroundColor: '#FFFFFF',
  grid: grids, xAxis: xAxes, yAxis: yAxes, series: series, visualMap: visualMaps, graphic: { elements: graphics }
});
</script></body></html>
